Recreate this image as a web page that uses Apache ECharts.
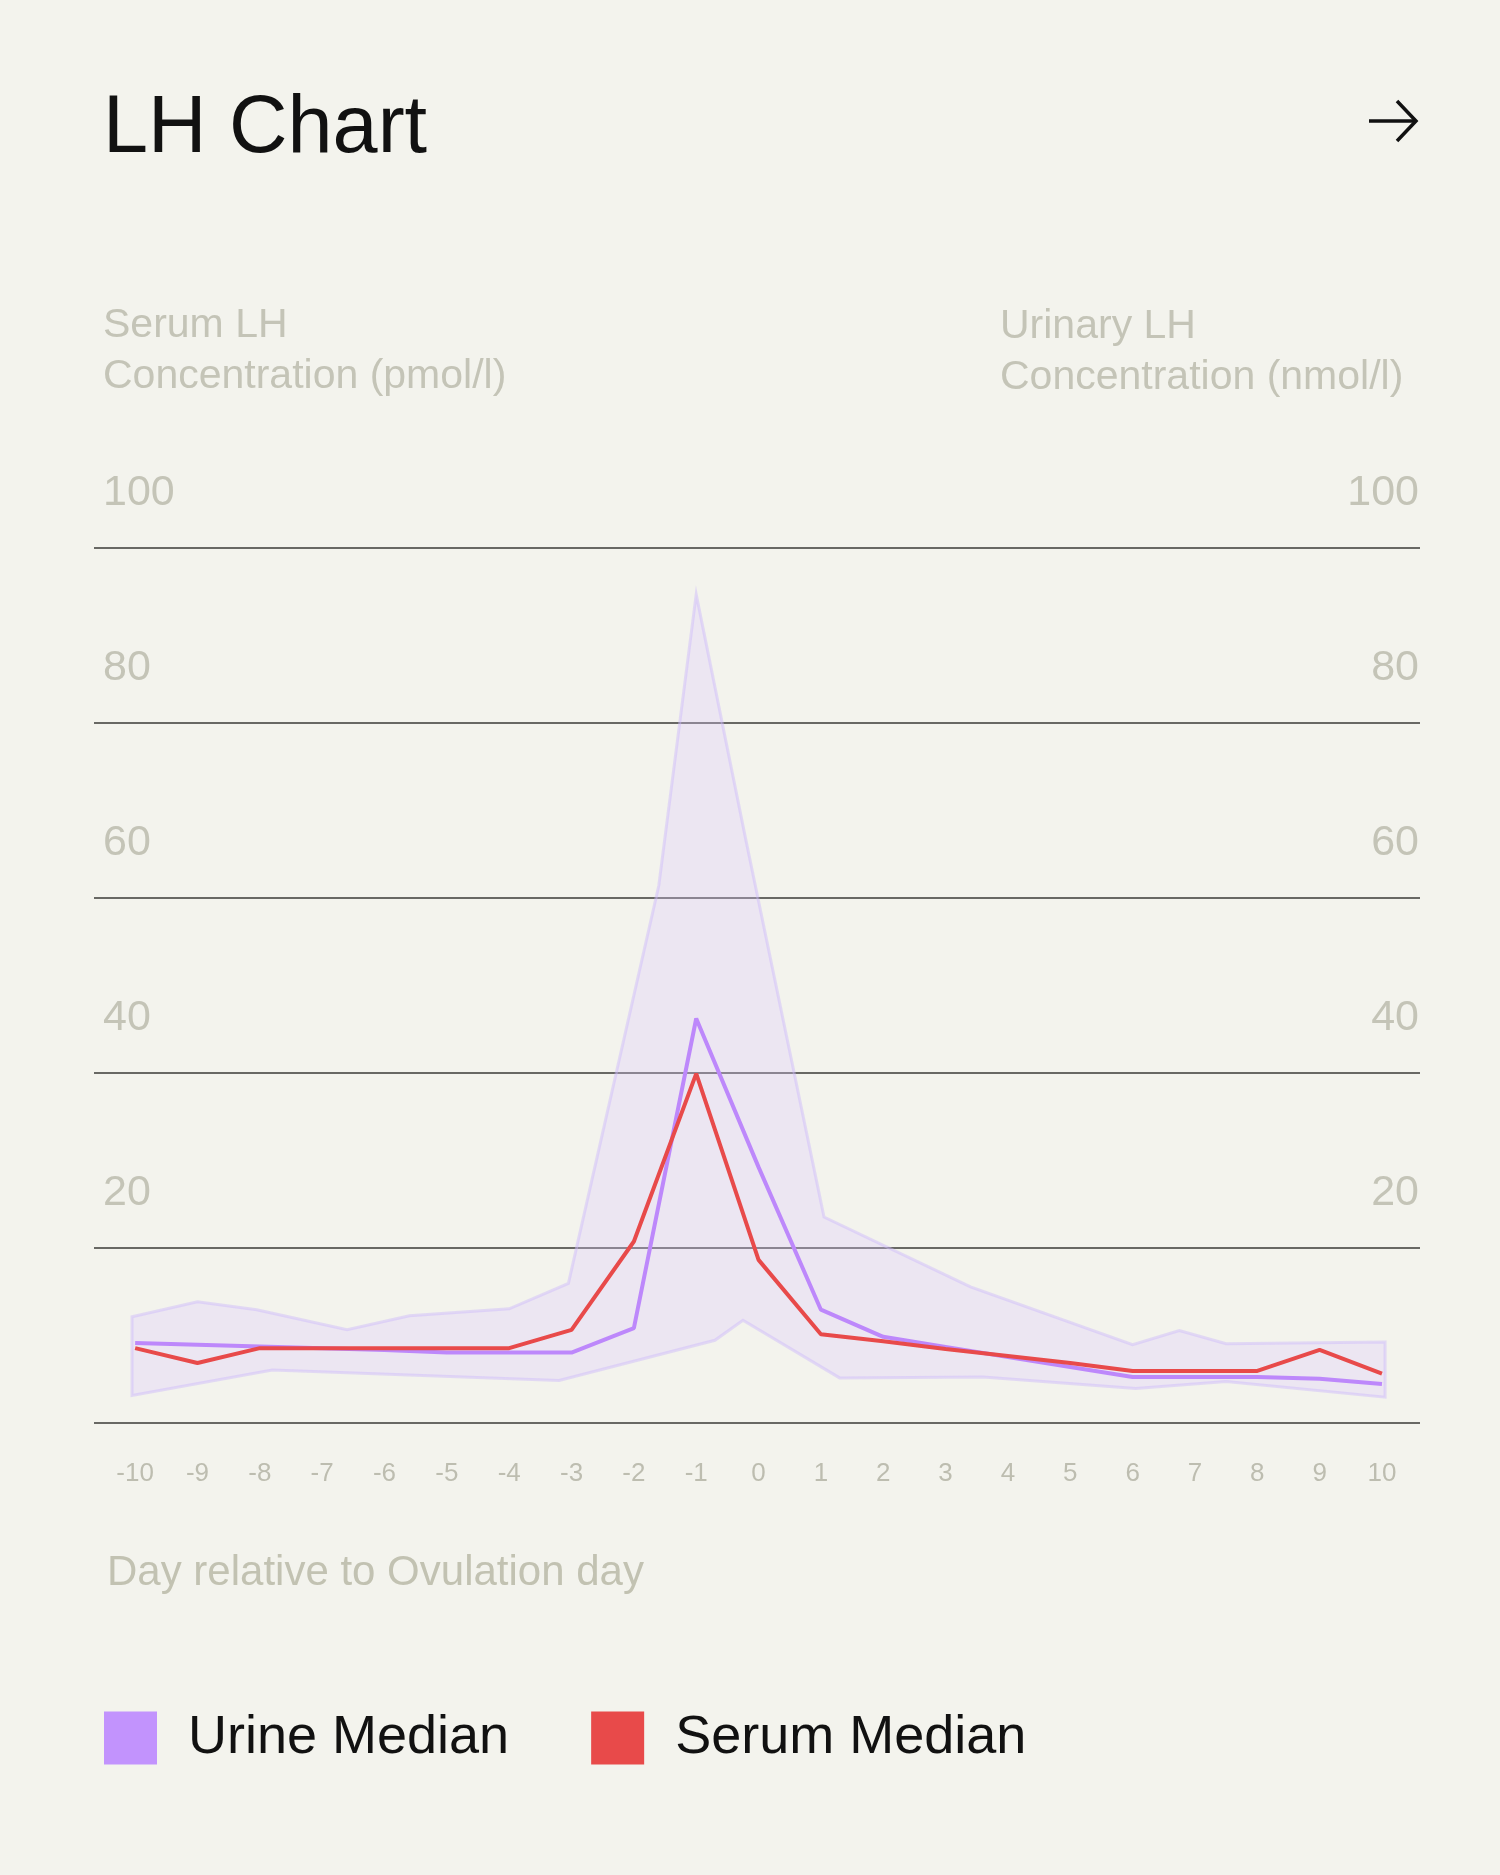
<!DOCTYPE html>
<html lang="en">
<head>
    <meta charset="UTF-8">
    <title>LH Chart</title>
    <script src="https://cdn.jsdelivr.net/npm/echarts@6/dist/echarts.min.js"></script>
    <style>
        html, body { margin: 0; padding: 0; background: #f3f3ed; }
    </style>
</head>
<body>
    <div style="width: 1500px; height:1875px" id="main"></div>
    <script type="text/javascript">
        // days relative to ovulation
        var days = [-10, -9, -8, -7, -6, -5, -4, -3, -2, -1, 0, 1, 2, 3, 4, 5, 6, 7, 8, 9, 10];

        // medians
        var urineMedian = [9.1, 8.9, 8.7, 8.5, 8.3, 8.0, 8.0, 8.0, 10.8, 46.2, 29.2, 12.9, 9.8, 8.65, 7.5, 6.35, 5.2, 5.2, 5.2, 5.0, 4.4];
        var serumMedian = [8.5, 6.8, 8.5, 8.5, 8.5, 8.5, 8.5, 10.6, 20.7, 39.9, 18.6, 10.1, 9.3, 8.4, 7.6, 6.8, 5.9, 5.9, 5.9, 8.3, 5.6];

        // urine range band (upper and lower edge)
        var bandUpperDays = [-10.05, -9.0, -8.05, -6.6, -5.6, -4.0, -3.05, -1.6, -1.0, -0.2, 1.05, 3.4, 6.0, 6.75, 7.5, 10.05];
        var bandUpper = [12.1, 13.8, 12.9, 10.6, 12.2, 13.0, 15.9, 61.4, 94.7, 66.5, 23.5, 15.5, 8.9, 10.5, 9.0, 9.2];
        var bandLowerDays = [-10.05, -7.8, -3.2, -0.7, -0.25, 1.3, 3.6, 6.05, 7.5, 10.05];
        var bandLower = [3.1, 6.0, 4.8, 9.4, 11.7, 5.1, 5.2, 3.9, 4.7, 2.9];

        var yTicks = [0, 20, 40, 60, 80, 100];

        var font = 'Liberation Sans';
        var pairs = (vals) => days.map((d, i) => [d, vals[i]]);

        var myChart = echarts.init(document.getElementById('main'));
        var option = {
            backgroundColor: '#f3f3ed',
            animation: false,
            textStyle: { fontFamily: font },
            title: {
                text: 'LH Chart',
                left: 103,
                top: 89,
                padding: 0,
                textStyle: { fontFamily: font, fontSize: 81, fontWeight: 'normal', color: '#111111', lineHeight: 81 }
            },
            legend: {
                left: 104,
                top: 1711,
                padding: 0,
                icon: 'rect',
                itemWidth: 53,
                itemHeight: 53,
                itemGap: 82,
                itemStyle: { borderWidth: 0 },
                data: ['Urine Median', 'Serum Median'],
                textStyle: { fontFamily: font, fontSize: 54, color: '#111111', padding: [0, 0, 0, 26] }
            },
            grid: {
                left: 94,
                right: 80,
                top: 548,
                bottom: 452.5,
                outerBoundsMode: 'none'
            },
            xAxis: {
                type: 'value',
                min: -10.66,
                max: 10.61,
                axisLine: { show: false },
                axisTick: { show: false },
                splitLine: { show: false },
                axisLabel: {
                    customValues: days,
                    margin: 38,
                    fontSize: 26,
                    color: '#bdbdb0',
                    fontFamily: font
                }
            },
            yAxis: [
                {
                    type: 'value',
                    position: 'left',
                    min: yTicks[0],
                    max: yTicks[yTicks.length - 1],
                    interval: 20,
                    axisLine: { show: false },
                    axisTick: { show: false },
                    splitLine: { show: true, lineStyle: { color: '#3a3a36', width: 1.5 } },
                    axisLabel: {
                        inside: true,
                        showMinLabel: false,
                        align: 'left',
                        verticalAlign: 'bottom',
                        padding: [0, 0, 33, 0],
                        margin: 9,
                        fontSize: 43,
                        color: '#c4c4b7',
                        fontFamily: font
                    }
                },
                {
                    type: 'value',
                    position: 'right',
                    min: yTicks[0],
                    max: yTicks[yTicks.length - 1],
                    interval: 20,
                    axisLine: { show: false },
                    axisTick: { show: false },
                    splitLine: { show: false },
                    axisLabel: {
                        inside: true,
                        showMinLabel: false,
                        align: 'right',
                        verticalAlign: 'bottom',
                        padding: [0, 0, 33, 0],
                        margin: 1,
                        fontSize: 43,
                        color: '#c4c4b7',
                        fontFamily: font
                    }
                }
            ],
            graphic: [
                {
                    type: 'text',
                    left: 103,
                    top: 300,
                    style: {
                        text: 'Serum LH\nConcentration (pmol/l)',
                        fontFamily: font, fontSize: 41, lineHeight: 51, fill: '#c4c4b7'
                    }
                },
                {
                    type: 'text',
                    left: 1000,
                    top: 301,
                    style: {
                        text: 'Urinary LH\nConcentration (nmol/l)',
                        fontFamily: font, fontSize: 41, lineHeight: 51, fill: '#c4c4b7'
                    }
                },
                {
                    type: 'text',
                    left: 107,
                    top: 1552,
                    style: {
                        text: 'Day relative to Ovulation day',
                        fontFamily: font, fontSize: 42, lineHeight: 42, fill: '#c2c2b2'
                    }
                },
                {
                    type: 'polyline',
                    shape: { points: [[1369, 121], [1416, 121]] },
                    style: { stroke: '#111111', lineWidth: 3.5 }
                },
                {
                    type: 'polyline',
                    shape: { points: [[1397, 101], [1416, 121], [1397, 141]] },
                    style: { stroke: '#111111', lineWidth: 3.5, fill: null }
                }
            ],
            series: [
                {
                    name: 'Urine range',
                    type: 'custom',
                    yAxisIndex: 1,
                    silent: true,
                    z: 1,
                    data: [[0, 0]],
                    renderItem: function (params, api) {
                        var pts = [];
                        for (var i = 0; i < bandUpperDays.length; i++) {
                            pts.push(api.coord([bandUpperDays[i], bandUpper[i]]));
                        }
                        for (var j = bandLowerDays.length - 1; j >= 0; j--) {
                            pts.push(api.coord([bandLowerDays[j], bandLower[j]]));
                        }
                        return {
                            type: 'polygon',
                            shape: { points: pts },
                            style: {
                                fill: 'rgba(223,203,255,0.3)',
                                stroke: 'rgba(205,185,250,0.45)',
                                lineWidth: 3
                            }
                        };
                    }
                },
                {
                    name: 'Urine Median',
                    type: 'line',
                    yAxisIndex: 1,
                    symbol: 'none',
                    z: 3,
                    itemStyle: { color: '#c293fd' },
                    lineStyle: { color: '#bd88fb', width: 4 },
                    data: pairs(urineMedian)
                },
                {
                    name: 'Serum Median',
                    type: 'line',
                    yAxisIndex: 0,
                    symbol: 'none',
                    z: 4,
                    itemStyle: { color: '#e84a4a' },
                    lineStyle: { color: '#e84a4a', width: 4 },
                    data: pairs(serumMedian)
                }
            ]
        };
        myChart.setOption(option);
    </script>
</body>
</html>
